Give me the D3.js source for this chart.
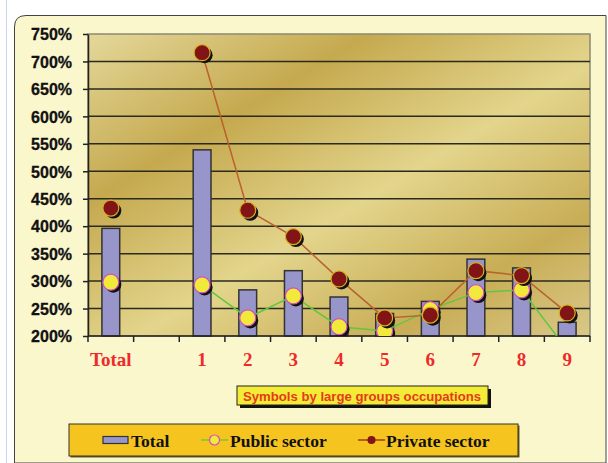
<!DOCTYPE html>
<html>
<head>
<meta charset="utf-8">
<script src="https://cdn.jsdelivr.net/npm/d3@7"></script>
<style>
  body { margin: 0; background: #fff; }
  svg { display: block; }
</style>
</head>
<body>
<div id="chart"></div>
<script>
var width = 608
var height = 463

// data
var categories = ['Total', '', '1', '2', '3', '4', '5', '6', '7', '8', '9']
var totalVals = [396, null, 539, 284, 319, 271, 241, 263, 340, 324, 225]
var publicVals = [298, null, 293, 233, 273, 217, 209, 248, 279, 284, 175]
var privateVals = [433, null, 716, 429, 381, 304, 233, 238, 319, 310, 242]
var yTicks = [200, 250, 300, 350, 400, 450, 500, 550, 600, 650, 700, 750]
var legendLabels = ['Total', 'Public sector', 'Private sector']
var note = 'Symbols by large groups occupations'

var plot = { left: 88, right: 590, top: 34, bottom: 336 }

var svg = d3.select('#chart').append('svg')
    .attr('width', width)
    .attr('height', height)

var defs = svg.append('defs')

var grad = defs.append('linearGradient')
    .attr('id', 'gold')
    .attr('x1', 0).attr('y1', 0)
    .attr('x2', 1).attr('y2', 1)
var stops = [[0, '#e4d89a'], [0.28, '#c5a94f'], [0.55, '#e3d58c'], [0.8, '#c8ad56'], [1, '#d9c888']]
stops.forEach(function(s) {
    grad.append('stop').attr('offset', s[0]).attr('stop-color', s[1])
})

defs.append('clipPath').attr('id', 'plotClip')
    .append('rect')
    .attr('x', plot.left).attr('y', plot.top)
    .attr('width', plot.right - plot.left)
    .attr('height', plot.bottom - plot.top)

// page edge + cream panel
svg.append('line')
    .attr('x1', 6.5).attr('x2', 6.5).attr('y1', 0).attr('y2', height)
    .attr('stroke', '#c9d6f2')

svg.append('path')
    .attr('d', 'M14.5,' + height + ' L14.5,27 Q14.5,15.5 26,15.5 L606,15.5 L606,' + height + ' Z')
    .attr('fill', '#fbf7cd')
    .attr('stroke', '#444')
    .attr('stroke-width', 1)

var x = d3.scaleBand()
    .domain(categories)
    .range([plot.left, plot.right])
    .padding(0)

var y = d3.scaleLinear()
    .domain([200, 750])
    .range([plot.bottom, plot.top])

// plot background
svg.append('rect')
    .attr('x', plot.left).attr('y', plot.top)
    .attr('width', plot.right - plot.left)
    .attr('height', plot.bottom - plot.top)
    .attr('fill', 'url(#gold)')
    .attr('stroke', '#8c8a70')
    .attr('stroke-width', 1.5)

// gridlines
svg.append('g').selectAll('line')
    .data(yTicks.slice(1, -1))
    .enter().append('line')
    .attr('x1', plot.left).attr('x2', plot.right)
    .attr('y1', function(d) { return y(d) })
    .attr('y2', function(d) { return y(d) })
    .attr('stroke', '#2a2a1e')
    .attr('stroke-width', 1.5)

// bars
var barW = x.bandwidth() * 0.39
svg.append('g').selectAll('rect')
    .data(categories.map(function(c, i) { return { cat: c, v: totalVals[i] } })
        .filter(function(d) { return d.v != null }))
    .enter().append('rect')
    .attr('x', function(d) { return x(d.cat) + x.bandwidth() / 2 - barW / 2 })
    .attr('y', function(d) { return y(d.v) })
    .attr('width', barW)
    .attr('height', function(d) { return y(200) - y(d.v) })
    .attr('fill', '#9795c9')
    .attr('stroke', '#333')
    .attr('stroke-width', 1.5)

// axes
var yAxis = svg.append('g')
    .attr('transform', 'translate(' + plot.left + ',0)')
    .call(d3.axisLeft(y).tickValues(yTicks).tickSize(5).tickSizeOuter(0)
        .tickFormat(function(d) { return d + '%' }))
yAxis.select('.domain').attr('stroke', '#222').attr('stroke-width', 1.5)
yAxis.selectAll('.tick line').attr('stroke', '#222').attr('stroke-width', 1.5)
yAxis.selectAll('text')
    .attr('x', -16)
    .attr('dy', '0.36em')
    .style('font-family', '"Liberation Sans", Arial, sans-serif')
    .style('font-weight', 'bold')
    .style('font-size', '16px')
    .attr('fill', '#111')
    .attr('stroke', '#111')
    .attr('stroke-width', 0.3)

var xAxis = svg.append('g')
    .attr('transform', 'translate(0,' + plot.bottom + ')')
xAxis.append('line')
    .attr('x1', plot.left).attr('x2', plot.right)
    .attr('stroke', '#222').attr('stroke-width', 1.5)
xAxis.selectAll('.xt')
    .data(categories.map(function(c) { return x(c) }).concat([plot.right]))
    .enter().append('line')
    .attr('x1', function(d) { return d }).attr('x2', function(d) { return d })
    .attr('y1', 0).attr('y2', 6)
    .attr('stroke', '#222').attr('stroke-width', 1.5)
xAxis.selectAll('text')
    .data(categories)
    .enter().append('text')
    .attr('x', function(d) { return x(d) + x.bandwidth() / 2 })
    .attr('y', 30)
    .attr('text-anchor', 'middle')
    .style('font-family', '"Liberation Serif", "Times New Roman", serif')
    .style('font-weight', 'bold')
    .style('font-size', '19px')
    .attr('fill', '#ee2a2a')
    .text(function(d) { return d })

// lines
var line = d3.line()
    .defined(function(d) { return d.v != null })
    .x(function(d) { return x(d.cat) + x.bandwidth() / 2 })
    .y(function(d) { return y(d.v) })

function series(vals) {
    return categories.map(function(c, i) { return { cat: c, v: vals[i] } })
}

var lines = svg.append('g').attr('clip-path', 'url(#plotClip)')
lines.append('path')
    .datum(series(publicVals))
    .attr('d', line)
    .attr('fill', 'none')
    .attr('stroke', '#5ec83e')
    .attr('stroke-width', 1.5)
lines.append('path')
    .datum(series(privateVals))
    .attr('d', line)
    .attr('fill', 'none')
    .attr('stroke', '#b8622e')
    .attr('stroke-width', 1.5)

// markers
function markers(vals, fill, stroke) {
    var g = svg.append('g').attr('clip-path', 'url(#plotClip)')
    var pts = series(vals).filter(function(d) { return d.v != null })
    var m = g.selectAll('g').data(pts).enter().append('g')
        .attr('transform', function(d) {
            return 'translate(' + (x(d.cat) + x.bandwidth() / 2) + ',' + y(d.v) + ')' })
    m.append('circle')
        .attr('cx', 2.5).attr('cy', 2.5).attr('r', 8)
        .attr('fill', '#111')
    m.append('circle')
        .attr('r', 8)
        .attr('fill', fill)
        .attr('stroke', stroke)
        .attr('stroke-width', 1.2)
}
markers(publicVals, '#f2ea3a', '#d24fc4')
markers(privateVals, '#801417', '#d8b020')

// note box
var noteG = svg.append('g').attr('transform', 'translate(237,386)')
noteG.append('rect')
    .attr('x', 3).attr('y', 3).attr('width', 251).attr('height', 19)
    .attr('fill', '#111')
noteG.append('rect')
    .attr('width', 251).attr('height', 19)
    .attr('fill', '#f2ec36')
    .attr('stroke', '#222')
    .attr('stroke-width', 1)
noteG.append('text')
    .attr('x', 6).attr('y', 14.5)
    .attr('textLength', 238)
    .attr('lengthAdjust', 'spacingAndGlyphs')
    .style('font-family', '"Liberation Sans", Arial, sans-serif')
    .style('font-weight', 'bold')
    .style('font-size', '13.5px')
    .attr('fill', '#e8381e')
    .text(note)

// legend
var leg = svg.append('g').attr('transform', 'translate(69,424)')
leg.append('rect')
    .attr('x', 1.5).attr('y', 1.5).attr('width', 449).attr('height', 32)
    .attr('fill', '#6b5a20')
leg.append('rect')
    .attr('width', 449).attr('height', 32)
    .attr('fill', '#f5c41e')
    .attr('stroke', '#333')
    .attr('stroke-width', 1)

var legFont = function(s) {
    s.style('font-family', '"Liberation Serif", "Times New Roman", serif')
        .style('font-weight', 'bold')
        .style('font-size', '17.5px')
        .attr('fill', '#111')
}

leg.append('rect')
    .attr('x', 34).attr('y', 12.5).attr('width', 25).attr('height', 7)
    .attr('fill', '#9795c9').attr('stroke', '#333').attr('stroke-width', 1.2)
leg.append('text').attr('x', 62).attr('y', 22.5).call(legFont).text(legendLabels[0])

leg.append('line').attr('x1', 132).attr('x2', 159).attr('y1', 16).attr('y2', 16)
    .attr('stroke', '#5ec83e').attr('stroke-width', 1.2)
leg.append('circle').attr('cx', 145.5).attr('cy', 16).attr('r', 5)
    .attr('fill', '#f2ea3a').attr('stroke', '#d24fc4').attr('stroke-width', 1.2)
leg.append('text').attr('x', 161).attr('y', 22.5).call(legFont).text(legendLabels[1])

leg.append('line').attr('x1', 289).attr('x2', 316).attr('y1', 16).attr('y2', 16)
    .attr('stroke', '#8a1a1a').attr('stroke-width', 1.2)
leg.append('circle').attr('cx', 302.5).attr('cy', 16).attr('r', 4)
    .attr('fill', '#801417')
leg.append('text').attr('x', 317).attr('y', 22.5).call(legFont).text(legendLabels[2])
</script>
</body>
</html>
